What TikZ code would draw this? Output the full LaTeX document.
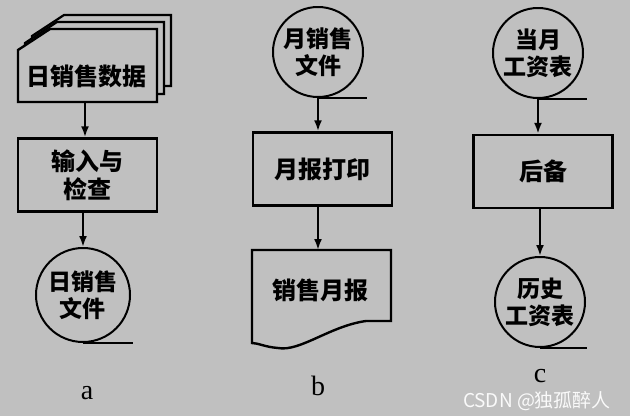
\documentclass[tikz,border=0pt]{standalone}
\usepackage{fontspec}
\setmainfont{Liberation Serif}
\newfontfamily\cjk{Noto Sans CJK SC}
\usetikzlibrary{arrows.meta}

\definecolor{bg}{HTML}{C0C0C0}
\tikzset{
    flow/.style={line width=2.2pt, -{Latex[length=11pt,width=8pt]}},
    procbox/.style={draw, line width=2.4pt, fill=bg, minimum width=139, minimum height=73,
        align=center, font=\cjk\bfseries\fontsize{24}{28}\selectfont},
    store/.style={draw, circle, line width=2pt, fill=bg, inner sep=0pt,
        align=center, font=\cjk\bfseries\fontsize{23}{27}\selectfont},
    txt/.style={align=center, font=\cjk\bfseries\fontsize{24}{28}\selectfont},
    tag/.style={font=\fontsize{28}{30}\selectfont}
}

\begin{document}
\begin{tikzpicture}[x=1pt, y=-1pt]
\fill[bg] (0,0) rectangle (630,416);
\useasboundingbox (0,0) rectangle (630,416);

% a
\draw[line width=2.2pt, fill=bg] (32,36) -- (64,15) -- (171,15) -- (171,86) -- (32,86) -- cycle;
\draw[line width=2.2pt, fill=bg] (25,43) -- (57,22) -- (164,22) -- (164,94) -- (25,94) -- cycle;
\draw[line width=2.4pt, fill=bg] (18,50) -- (50,29) -- (157,29) -- (157,102) -- (18,102) -- cycle;
\node[txt] (a1) at (87,76) {日销售数据};
\coordinate (a1s) at (85,102);

\node[procbox] (a2) at (87.5,175) {输入与\\检查};

\node[store, minimum size=94] (a3) at (83,295) {日销售\\文件};
\draw[line width=2pt] (a3.south) -- ++(50,0);

\draw[flow] (a1s) -- (a1s |- a2.north);
\draw[flow] (a3.north |- a2.south) -- (a3.north);

\node[tag] (la) at (87,393) {a};

% b
\node[store, minimum size=90] (b1) at (318,52) {月销售\\文件};
\draw[line width=2pt] (b1.south) -- ++(49,0);

\node[procbox] (b2) at (322.5,169) {月报打印};

\draw[line width=2.4pt, fill=bg] (252,250) -- (391,250) -- (391,321) -- (366,321)
    .. controls (330,326) and (300,352) .. (278,348)
    .. controls (265,347) and (258,343) .. (252,343) -- cycle;
\node[txt] (b3) at (320,290) {销售月报};
\coordinate (b3t) at (318,250);

\draw[flow] (b1.south) -- (b1.south |- b2.north);
\draw[flow] (b3t |- b2.south) -- (b3t);

\node[tag] (lb) at (318,386) {b};

% c
\node[store, minimum size=90] (c1) at (538,53) {当月\\工资表};
\draw[line width=2pt] (c1.south) -- ++(49,0);

\node[procbox, minimum height=73] (c2) at (543,171.5) {后备};

\node[store, minimum size=90] (c3) at (540,302) {历史\\工资表};
\draw[line width=2pt] (c3.south) -- ++(47,0);

\draw[flow] (c1.south) -- (c1.south |- c2.north);
\draw[flow] (c3.north |- c2.south) -- (c3.north);

\node[tag] (lc) at (540,376) {c};

\node[text=white!92!bg, font=\cjk\fontsize{19}{21}\selectfont] (mark) at (537,401) {CSDN @独孤醉人};
\end{tikzpicture}
\end{document}
